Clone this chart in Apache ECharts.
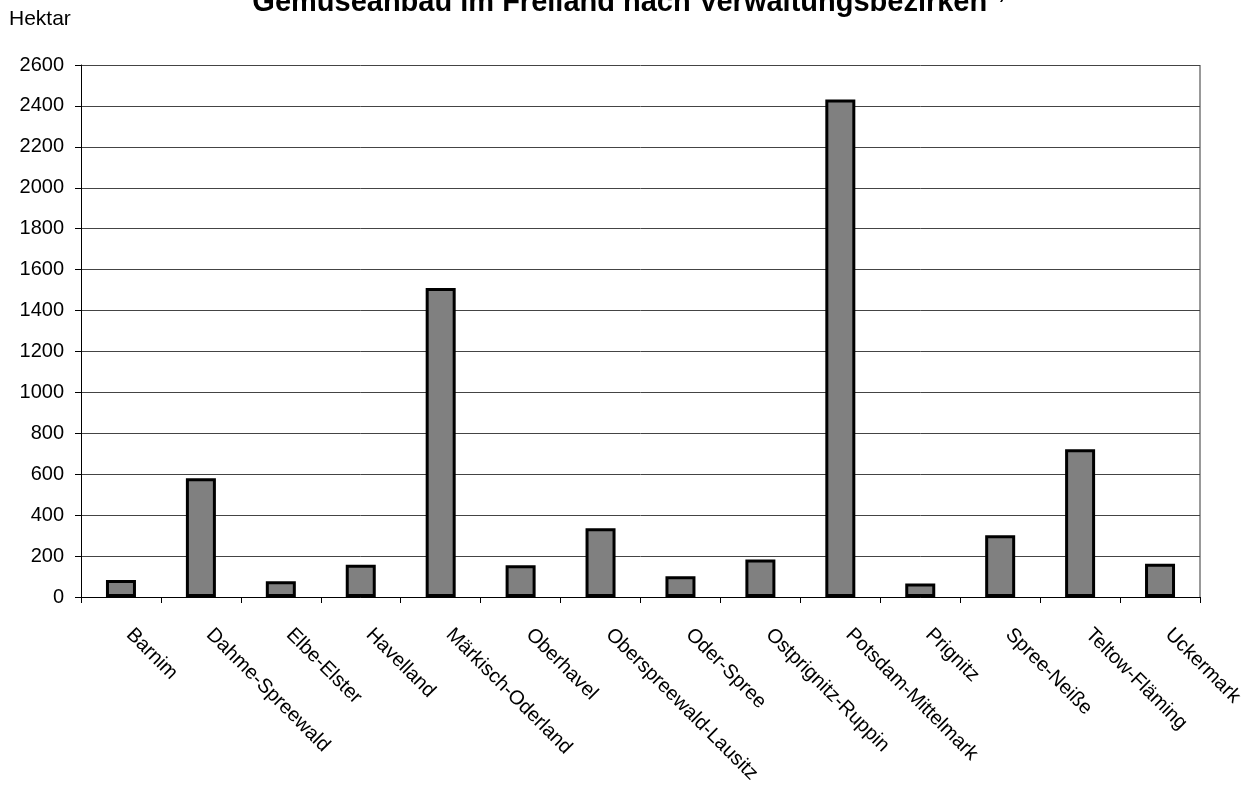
<!DOCTYPE html>
<html><head><meta charset="utf-8">
<script src="https://cdn.jsdelivr.net/npm/echarts@6/dist/echarts.min.js"></script>
<style>html,body{margin:0;padding:0;background:#fff}#c{width:1257px;height:789px}</style>
</head><body><div id="c"></div>
<script>
const categories = ["Barnim","Dahme-Spreewald","Elbe-Elster","Havelland","Märkisch-Oderland","Oberhavel","Oberspreewald-Lausitz","Oder-Spree","Ostprignitz-Ruppin","Potsdam-Mittelmark","Prignitz","Spree-Neiße","Teltow-Fläming","Uckermark"];
const hektar = [83, 580, 77, 158, 1510, 155, 336, 101, 183, 2432, 66, 302, 722, 163];
const yMin = 0, yMax = 2600, yStep = 200;
const FONT = 'Liberation Sans, Arial, sans-serif';

const chart = echarts.init(document.getElementById('c'), null, {renderer:'canvas'});
chart.setOption({
  animation:false,
  backgroundColor:'#fff',
  textStyle:{fontFamily:FONT},
  title:{
    text:'{m|Gemüseanbau im Freiland nach Verwaltungsbezirken} {s|1)}',
    left:'center', top:-12, padding:[0,0,0,14],
    textStyle:{
      rich:{
        m:{fontSize:29,fontWeight:'bold',color:'#000',fontFamily:FONT},
        s:{fontSize:14,color:'#000',verticalAlign:'top',fontFamily:FONT}
      }
    }
  },
  graphic:[
    {type:'text',left:9,top:9,style:{text:'Hektar',fontSize:21,fill:'#000',fontFamily:FONT}},
    {type:'line',shape:{x1:1200,y1:65,x2:1200,y2:597},style:{stroke:'#999',lineWidth:2}}
  ],
  grid:{left:81,right:57,top:65,bottom:192,containLabel:false},
  xAxis:{
    type:'category', data:categories,
    axisLine:{lineStyle:{color:'#000',width:1}},
    axisTick:{show:true,length:6,lineStyle:{color:'#000'}},
    axisLabel:{rotate:-45,fontSize:20,color:'#000',margin:26,interval:0,padding:[0,0,0,12],fontFamily:FONT}
  },
  yAxis:{
    type:'value', min:yMin, max:yMax, interval:yStep,
    axisLine:{show:true,lineStyle:{color:'#000',width:1}},
    axisTick:{show:true,length:6,lineStyle:{color:'#000'}},
    axisLabel:{fontSize:20,color:'#000',margin:17,fontFamily:FONT,formatter:v=>String(v)},
    splitLine:{show:true,lineStyle:{color:'#444',width:1}}
  },
  series:[{
    type:'bar', data:hektar, barWidth:30,
    itemStyle:{color:'#808080',borderColor:'#000',borderWidth:3}
  }]
});
</script></body></html>
